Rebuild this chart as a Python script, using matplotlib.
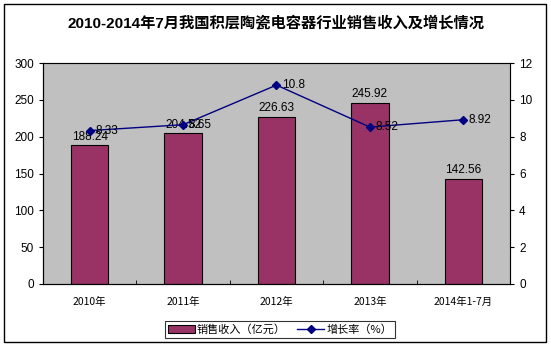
import matplotlib.pyplot as plt
from matplotlib.patches import Rectangle

plt.rcParams['font.family'] = ['Liberation Sans', 'Noto Sans CJK SC', 'DejaVu Sans']

years = ['2010年', '2011年', '2012年', '2013年', '2014年1-7月']
revenue = [188.24, 204.52, 226.63, 245.92, 142.56]
growth = [8.33, 8.65, 10.8, 8.52, 8.92]

fig = plt.figure(figsize=(5.51, 3.48), dpi=100)
fig.patches.append(Rectangle((4 / 551, 6 / 348), 542 / 551, 338 / 348, transform=fig.transFigure,
                             fill=False, edgecolor='black', linewidth=1))

ax = fig.add_axes([43 / 551, 64 / 348, 467 / 551, 221 / 348])
ax.set_facecolor('#C0C0C0')
x = list(range(len(years)))
bars = ax.bar(x, revenue, width=0.4, color='#993366', edgecolor='black', linewidth=0.8,
              label='销售收入（亿元）', zorder=2)
for xi, v in zip(x, revenue):
    ax.annotate(f'{v:g}', (xi, v), xytext=(0, 2), textcoords='offset points',
                ha='center', va='bottom', fontsize=8.5)

ax.set_xlim(-0.5, len(years) - 0.5)
ax.set_ylim(0, 300)
ax.set_yticks(range(0, 301, 50))
ax.set_xticks(x)
ax.set_xticklabels(years, family=['Noto Sans CJK SC'], fontsize=7.5)
ax.set_xticks([i + 0.5 for i in range(len(years) - 1)], minor=True)
ax.tick_params(axis='x', which='major', length=0, pad=9)
ax.tick_params(axis='x', which='minor', direction='in', length=3)
ax.tick_params(axis='y', labelsize=8.5, direction='out', length=3)
for s in ['top', 'right']:
    ax.spines[s].set_color('#808080')

ax2 = ax.twinx()
line, = ax2.plot(x, growth, color='#000080', marker='D', markersize=4, linewidth=1,
                 label='增长率（%）', zorder=3)
for xi, v in zip(x, growth):
    ax2.annotate(f'{v:g}', (xi, v), xytext=(4, 0), textcoords='offset points',
                 ha='left', va='center', fontsize=8.5)
ax2.set_ylim(0, 12)
ax2.set_yticks(range(0, 13, 2))
ax2.tick_params(axis='y', labelsize=8.5, direction='out', length=3)

fig.text(276 / 551, 1 - 23 / 348, '2010-2014年7月我国积层陶瓷电容器行业销售收入及增长情况',
         ha='center', va='center', fontsize=11, fontweight='bold',
         family=['Liberation Sans', 'Noto Sans CJK SC'])

leg = fig.legend([bars, line], ['销售收入（亿元）', '增长率（%）'], loc='center',
                 bbox_to_anchor=(280 / 551, 1 - 329.5 / 348), ncol=2, frameon=True,
                 fancybox=False, edgecolor='black',
                 prop={'family': ['Noto Sans CJK SC'], 'size': 8},
                 handlelength=2.4, handletextpad=0.2, columnspacing=1,
                 borderpad=0.3)
leg.get_frame().set_linewidth(0.8)

fig.savefig('out.png', dpi=100)
